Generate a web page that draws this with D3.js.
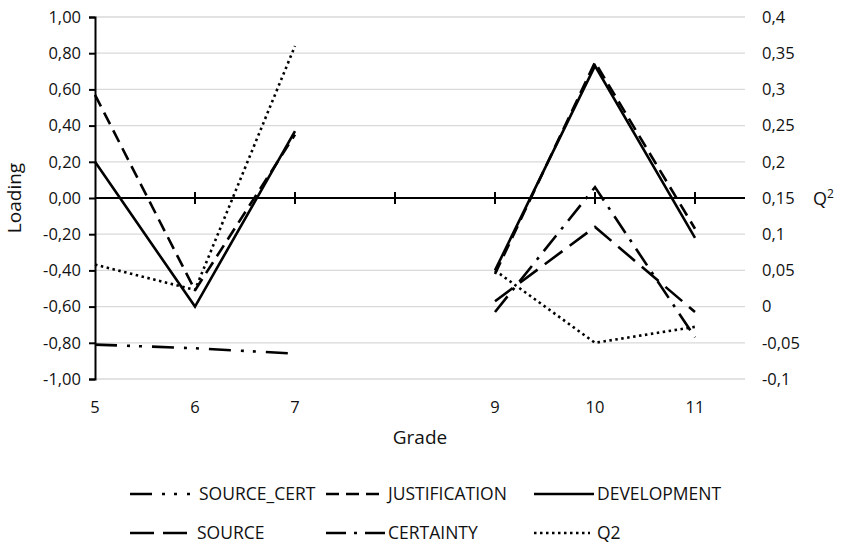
<!DOCTYPE html>
<html><head><meta charset="utf-8">
<script src="https://cdn.jsdelivr.net/npm/d3@7"></script>
<style>
html,body{margin:0;padding:0;background:#fff;}
text{font-family:"Open Sans",sans-serif;fill:#111;}
</style></head>
<body><svg id="c" width="842" height="543"></svg>
<script>
const grades = [5, 6, 7, 9, 10, 11];
const gradeLabels = ["5", "6", "7", "9", "10", "11"];
const sourceCert = [-0.81, -0.83, -0.86, null, null, null];
const justification = [0.57, -0.51, 0.35, -0.42, 0.75, -0.17];
const development = [0.20, -0.60, 0.37, -0.40, 0.73, -0.22];
const source = [null, null, null, -0.57, -0.16, -0.63];
const certainty = [null, null, null, -0.63, 0.06, -0.77];
const q2 = [0.058, 0.023, 0.36, 0.05, -0.05, -0.028];
const leftTicks = [1, 0.8, 0.6, 0.4, 0.2, 0, -0.2, -0.4, -0.6, -0.8, -1];
const rightTicks = [0.4, 0.35, 0.3, 0.25, 0.2, 0.15, 0.1, 0.05, 0, -0.05, -0.1];
const zeroTicks = [6, 7, 8, 9, 10, 11];

const svg = d3.select("#c");
const x = d3.scaleLinear().domain([5, 11.5]).range([95, 745]);
const yL = d3.scaleLinear().domain([-1, 1]).range([379, 17]);
const yR = d3.scaleLinear().domain([-0.1, 0.4]).range([379, 17]);

const fmtL = d => d3.format(".2f")(d).replace(".", ",").replace("−", "-");
const fmtR = d => { let s = String(+d.toFixed(2)); return s.replace(".", ","); };

// gridlines
svg.append("g").selectAll("line").data(leftTicks).join("line")
  .attr("x1", x(5)).attr("x2", x(11.5))
  .attr("y1", d => yL(d)).attr("y2", d => yL(d))
  .attr("stroke", "#d9d9d9").attr("stroke-width", 1.3);

// left axis
const la = svg.append("g").attr("transform", `translate(${x(5)},0)`)
  .call(d3.axisLeft(yL).tickValues(leftTicks).tickSize(6).tickPadding(8).tickFormat(fmtL));
la.select(".domain").attr("stroke", "#000").attr("stroke-width", 2);
la.selectAll(".tick line").attr("stroke", "#000").attr("stroke-width", 2);
la.selectAll("text").style("font-size", "16.5px").attr("fill", "#111");

// right axis labels
const ra = svg.append("g").attr("transform", `translate(${x(11.5)},0)`)
  .call(d3.axisRight(yR).tickValues(rightTicks).tickSize(0).tickPadding(17).tickFormat(fmtR));
ra.select(".domain").remove();
ra.selectAll("text").style("font-size", "16.5px").attr("fill", "#111");

// zero line with ticks
svg.append("line").attr("x1", x(5)).attr("x2", x(11.5)).attr("y1", yL(0)).attr("y2", yL(0))
  .attr("stroke", "#000").attr("stroke-width", 2);
svg.append("g").selectAll("line").data(zeroTicks).join("line")
  .attr("x1", d => x(d)).attr("x2", d => x(d))
  .attr("y1", yL(0) - 6).attr("y2", yL(0) + 6)
  .attr("stroke", "#000").attr("stroke-width", 2);

// x labels
svg.append("g").selectAll("text").data(grades).join("text")
  .attr("x", d => x(d)).attr("y", 413).attr("text-anchor", "middle")
  .style("font-size", "16.5px").text((d, i) => gradeLabels[i]);

svg.append("text").attr("x", 420).attr("y", 444).attr("text-anchor", "middle")
  .style("font-size", "19px").text("Grade");
svg.append("text").attr("transform", `translate(21,${yL(0)}) rotate(-90)`)
  .attr("text-anchor", "middle").style("font-size", "19px").text("Loading");
const q2lab = svg.append("text").attr("x", 813).attr("y", yL(0) + 7).style("font-size", "18px");
q2lab.append("tspan").text("Q");
q2lab.append("tspan").attr("dy", -7).style("font-size", "12px").text("2");

// series
const series = [
  {name: "SOURCE_CERT", vals: sourceCert, y: yL, dash: "22,10,3,9,3,10"},
  {name: "SOURCE", vals: source, y: yL, dash: "22,9"},
  {name: "CERTAINTY", vals: certainty, y: yL, dash: "20,8,3,8"},
  {name: "JUSTIFICATION", vals: justification, y: yL, dash: "13,7"},
  {name: "DEVELOPMENT", vals: development, y: yL, dash: null},
  {name: "Q2", vals: q2, y: yR, dash: "2.5,3.5"}
];
const segs = [[0, 1, 2], [3, 4, 5]];
series.forEach(s => {
  segs.forEach(idx => {
    const pts = idx.filter(i => s.vals[i] !== null).map(i => [grades[i], s.vals[i]]);
    if (pts.length < 2) return;
    const line = d3.line().x(d => x(d[0])).y(d => s.y(d[1]));
    svg.append("path").datum(pts).attr("d", line)
      .attr("fill", "none").attr("stroke", "#000").attr("stroke-width", 2.6)
      .attr("stroke-dasharray", s.dash);
  });
});

// legend
const legend = [
  {name: "SOURCE_CERT", dash: "22,10,3,9,3,10", x1: 130, x2: 190, tx: 199, y: 494},
  {name: "JUSTIFICATION", dash: "13,7", x1: 326, x2: 386, tx: 388, y: 494},
  {name: "DEVELOPMENT", dash: null, x1: 534, x2: 594, tx: 597, y: 494},
  {name: "SOURCE", dash: "24,9", x1: 130, x2: 195, tx: 197, y: 533},
  {name: "CERTAINTY", dash: "20,8,3,8", x1: 326, x2: 386, tx: 388, y: 533},
  {name: "Q2", dash: "2.5,3.5", x1: 534, x2: 590, tx: 597, y: 533}
];
const lg = svg.append("g");
legend.forEach(l => {
  lg.append("line").attr("x1", l.x1).attr("x2", l.x2).attr("y1", l.y).attr("y2", l.y)
    .attr("stroke", "#000").attr("stroke-width", 2.6).attr("stroke-dasharray", l.dash);
  lg.append("text").attr("x", l.tx).attr("y", l.y + 6).style("font-size", "17.5px").text(l.name);
});
</script></body></html>
